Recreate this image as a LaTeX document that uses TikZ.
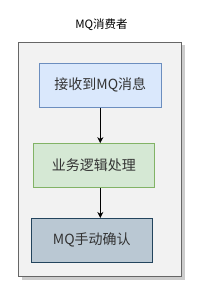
\documentclass[tikz,border=0pt]{standalone}
\usepackage{fontspec}
\setmainfont{Liberation Sans}
\newfontfamily\cjkfont{Noto Sans CJK SC}
\usetikzlibrary{arrows.meta}

\definecolor{groupfill}{RGB}{242,242,242}
\definecolor{groupline}{RGB}{102,102,102}
\definecolor{bluefill}{RGB}{218,232,252}
\definecolor{blueline}{RGB}{108,142,191}
\definecolor{greenfill}{RGB}{213,232,212}
\definecolor{greenline}{RGB}{130,179,102}
\definecolor{slatefill}{RGB}{186,200,211}
\definecolor{slateline}{RGB}{35,68,93}

\tikzset{every picture/.style={line width=0.75pt}}
\tikzset{
  stepbox/.style={rectangle,inner sep=0pt,font=\cjkfont\fontsize{14}{16}\selectfont,text=black!80},
  flow/.style={-{Stealth[length=6pt,width=6pt]},black}
}

\begin{document}
\begin{tikzpicture}[x=1pt,y=1pt,yscale=-1,xscale=1]
\useasboundingbox (0,0) rectangle (201,298);

%Shape: Shadow of group
\fill [black,opacity=0.2] (21.5,45.3) rectangle (184.7,279.7);
%Shape: Rectangle [group]
\draw [color=groupline,fill=groupfill] (18.5,42.3) rectangle (181.7,276.7);

% Text Node
\node (title) [font=\cjkfont\fontsize{11.5}{14}\selectfont] at (101.5,25) {MQ消费者};

%Shape: Rectangle [receive]
\node (receive) [stepbox,draw=blueline,fill=bluefill,minimum width=121.5pt,minimum height=44pt] at (100.3,85.3) {接收到MQ消息};
%Shape: Rectangle [handle]
\node (handle) [stepbox,draw=greenline,fill=greenfill,minimum width=121.5pt,minimum height=44pt] at (94,165.5) {业务逻辑处理};
%Shape: Rectangle [confirm]
\node (confirm) [stepbox,draw=slateline,fill=slatefill,minimum width=121pt,minimum height=44pt] at (91.8,240.3) {MQ手动确认};

%Straight Lines
\draw [flow] (receive.south) -- (receive.south |- handle.north);
\draw [flow] (receive.south |- handle.south) -- (receive.south |- confirm.north);

\end{tikzpicture}
\end{document}
